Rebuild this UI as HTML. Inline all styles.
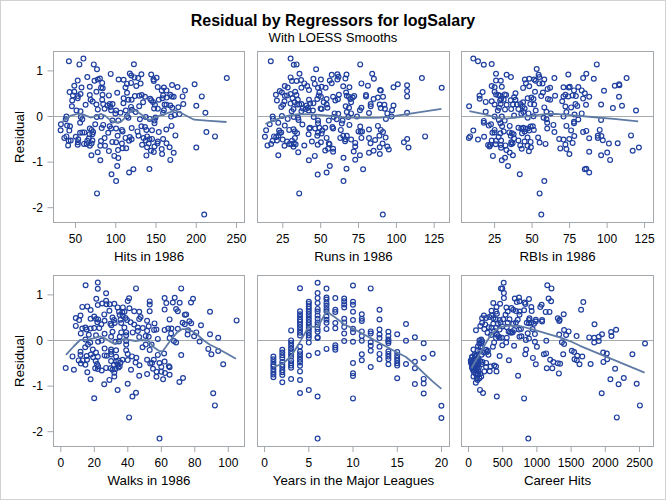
<!DOCTYPE html><html><head><meta charset="utf-8"><style>html,body{margin:0;padding:0;background:#fff}svg{display:block}text{font-family:"Liberation Sans",sans-serif;fill:#000}</style></head><body>
<svg width="666" height="500" viewBox="0 0 666 500">
<rect x="0" y="0" width="666" height="500" fill="#fff"/>
<rect x="0.5" y="0.5" width="665" height="499" fill="none" stroke="#d2d2d2" stroke-width="1"/>
<text x="333" y="25.5" font-size="16" font-weight="bold" text-anchor="middle">Residual by Regressors for logSalary</text>
<text x="333" y="41.5" font-size="13.1" text-anchor="middle">With LOESS Smooths</text>
<g>
<line x1="53.5" y1="116.5" x2="244.5" y2="116.5" stroke="#a6abb0" stroke-width="1.2"/>
<g fill="none" stroke="#1f3f9f" stroke-width="1.2">
<circle cx="68.9" cy="61.2" r="2.4"/><circle cx="83.4" cy="58.6" r="2.4"/><circle cx="79.4" cy="64.4" r="2.4"/><circle cx="93.8" cy="64.4" r="2.4"/><circle cx="97.0" cy="69.2" r="2.4"/><circle cx="133.9" cy="64.3" r="2.4"/><circle cx="110.7" cy="73.9" r="2.4"/><circle cx="87.3" cy="77.1" r="2.4"/><circle cx="77.7" cy="80.6" r="2.4"/><circle cx="74.3" cy="85.7" r="2.4"/><circle cx="81.5" cy="87.5" r="2.4"/><circle cx="89.8" cy="86.8" r="2.4"/><circle cx="94.5" cy="80.7" r="2.4"/><circle cx="97.8" cy="79.5" r="2.4"/><circle cx="99.9" cy="78.5" r="2.4"/><circle cx="102.2" cy="82.9" r="2.4"/><circle cx="101.0" cy="87.8" r="2.4"/><circle cx="102.7" cy="88.2" r="2.4"/><circle cx="118.6" cy="79.5" r="2.4"/><circle cx="123.6" cy="79.8" r="2.4"/><circle cx="127.0" cy="83.9" r="2.4"/><circle cx="125.5" cy="87.5" r="2.4"/><circle cx="131.0" cy="82.9" r="2.4"/><circle cx="129.8" cy="73.5" r="2.4"/><circle cx="131.3" cy="75.5" r="2.4"/><circle cx="134.5" cy="77.4" r="2.4"/><circle cx="138.1" cy="78.1" r="2.4"/><circle cx="141.4" cy="74.2" r="2.4"/><circle cx="140.6" cy="83.6" r="2.4"/><circle cx="136.3" cy="86.0" r="2.4"/><circle cx="69.6" cy="92.1" r="2.4"/><circle cx="74.3" cy="91.8" r="2.4"/><circle cx="72.9" cy="95.4" r="2.4"/><circle cx="77.9" cy="96.1" r="2.4"/><circle cx="80.5" cy="94.0" r="2.4"/><circle cx="77.7" cy="98.3" r="2.4"/><circle cx="72.2" cy="100.5" r="2.4"/><circle cx="89.8" cy="95.0" r="2.4"/><circle cx="90.6" cy="99.7" r="2.4"/><circle cx="92.6" cy="101.6" r="2.4"/><circle cx="96.4" cy="91.8" r="2.4"/><circle cx="102.5" cy="94.7" r="2.4"/><circle cx="102.2" cy="99.7" r="2.4"/><circle cx="108.9" cy="95.4" r="2.4"/><circle cx="117.2" cy="92.8" r="2.4"/><circle cx="127.0" cy="92.8" r="2.4"/><circle cx="123.6" cy="98.3" r="2.4"/><circle cx="128.4" cy="99.7" r="2.4"/><circle cx="131.6" cy="99.7" r="2.4"/><circle cx="134.9" cy="96.1" r="2.4"/><circle cx="139.2" cy="95.8" r="2.4"/><circle cx="141.7" cy="95.0" r="2.4"/><circle cx="145.0" cy="96.8" r="2.4"/><circle cx="143.1" cy="102.2" r="2.4"/><circle cx="71.9" cy="106.2" r="2.4"/><circle cx="76.5" cy="110.5" r="2.4"/><circle cx="80.5" cy="111.3" r="2.4"/><circle cx="85.6" cy="104.8" r="2.4"/><circle cx="96.4" cy="104.5" r="2.4"/><circle cx="97.8" cy="109.4" r="2.4"/><circle cx="103.2" cy="104.1" r="2.4"/><circle cx="104.6" cy="108.8" r="2.4"/><circle cx="107.5" cy="105.5" r="2.4"/><circle cx="109.7" cy="104.1" r="2.4"/><circle cx="112.5" cy="104.1" r="2.4"/><circle cx="110.4" cy="106.9" r="2.4"/><circle cx="111.1" cy="110.3" r="2.4"/><circle cx="116.1" cy="110.5" r="2.4"/><circle cx="115.4" cy="113.4" r="2.4"/><circle cx="120.5" cy="112.7" r="2.4"/><circle cx="123.4" cy="103.3" r="2.4"/><circle cx="131.0" cy="106.9" r="2.4"/><circle cx="139.2" cy="106.2" r="2.4"/><circle cx="125.8" cy="110.5" r="2.4"/><circle cx="135.6" cy="112.0" r="2.4"/><circle cx="132.0" cy="109.8" r="2.4"/><circle cx="66.4" cy="116.6" r="2.4"/><circle cx="65.7" cy="119.2" r="2.4"/><circle cx="80.8" cy="117.0" r="2.4"/><circle cx="82.3" cy="119.2" r="2.4"/><circle cx="96.7" cy="117.0" r="2.4"/><circle cx="101.0" cy="116.6" r="2.4"/><circle cx="127.0" cy="116.3" r="2.4"/><circle cx="128.4" cy="117.7" r="2.4"/><circle cx="139.9" cy="119.2" r="2.4"/><circle cx="145.7" cy="117.0" r="2.4"/><circle cx="112.5" cy="120.6" r="2.4"/><circle cx="118.3" cy="120.6" r="2.4"/><circle cx="151.2" cy="74.5" r="2.4"/><circle cx="156.6" cy="77.7" r="2.4"/><circle cx="153.5" cy="79.5" r="2.4"/><circle cx="153.8" cy="81.0" r="2.4"/><circle cx="157.7" cy="87.0" r="2.4"/><circle cx="163.9" cy="87.5" r="2.4"/><circle cx="161.7" cy="90.4" r="2.4"/><circle cx="166.5" cy="90.4" r="2.4"/><circle cx="172.1" cy="85.0" r="2.4"/><circle cx="177.5" cy="87.0" r="2.4"/><circle cx="185.0" cy="90.6" r="2.4"/><circle cx="194.6" cy="84.3" r="2.4"/><circle cx="226.8" cy="78.1" r="2.4"/><circle cx="163.1" cy="95.4" r="2.4"/><circle cx="162.4" cy="98.3" r="2.4"/><circle cx="158.8" cy="99.7" r="2.4"/><circle cx="166.7" cy="97.6" r="2.4"/><circle cx="170.3" cy="94.7" r="2.4"/><circle cx="171.8" cy="96.4" r="2.4"/><circle cx="173.7" cy="96.8" r="2.4"/><circle cx="182.6" cy="96.4" r="2.4"/><circle cx="201.8" cy="96.4" r="2.4"/><circle cx="150.2" cy="98.7" r="2.4"/><circle cx="151.2" cy="100.2" r="2.4"/><circle cx="153.0" cy="101.9" r="2.4"/><circle cx="154.9" cy="104.8" r="2.4"/><circle cx="154.1" cy="108.4" r="2.4"/><circle cx="157.8" cy="108.8" r="2.4"/><circle cx="164.6" cy="104.5" r="2.4"/><circle cx="166.5" cy="104.8" r="2.4"/><circle cx="170.3" cy="105.5" r="2.4"/><circle cx="172.2" cy="107.7" r="2.4"/><circle cx="178.3" cy="107.2" r="2.4"/><circle cx="183.3" cy="104.1" r="2.4"/><circle cx="196.3" cy="105.8" r="2.4"/><circle cx="163.9" cy="110.3" r="2.4"/><circle cx="163.1" cy="112.7" r="2.4"/><circle cx="171.1" cy="116.6" r="2.4"/><circle cx="174.7" cy="114.9" r="2.4"/><circle cx="179.4" cy="114.1" r="2.4"/><circle cx="205.4" cy="112.7" r="2.4"/><circle cx="155.5" cy="117.5" r="2.4"/><circle cx="149.7" cy="118.9" r="2.4"/><circle cx="154.5" cy="120.6" r="2.4"/><circle cx="60.9" cy="124.2" r="2.4"/><circle cx="60.6" cy="130.2" r="2.4"/><circle cx="67.1" cy="125.6" r="2.4"/><circle cx="70.0" cy="126.3" r="2.4"/><circle cx="69.3" cy="130.6" r="2.4"/><circle cx="80.1" cy="122.7" r="2.4"/><circle cx="95.2" cy="124.2" r="2.4"/><circle cx="103.2" cy="124.9" r="2.4"/><circle cx="101.7" cy="128.1" r="2.4"/><circle cx="109.7" cy="126.3" r="2.4"/><circle cx="111.1" cy="128.5" r="2.4"/><circle cx="116.1" cy="128.5" r="2.4"/><circle cx="121.9" cy="129.9" r="2.4"/><circle cx="122.6" cy="131.4" r="2.4"/><circle cx="131.7" cy="128.1" r="2.4"/><circle cx="137.5" cy="131.4" r="2.4"/><circle cx="141.4" cy="126.3" r="2.4"/><circle cx="145.0" cy="127.0" r="2.4"/><circle cx="146.4" cy="129.9" r="2.4"/><circle cx="89.8" cy="128.5" r="2.4"/><circle cx="91.6" cy="129.9" r="2.4"/><circle cx="93.1" cy="132.1" r="2.4"/><circle cx="92.4" cy="134.3" r="2.4"/><circle cx="89.5" cy="134.3" r="2.4"/><circle cx="80.1" cy="132.8" r="2.4"/><circle cx="82.3" cy="132.4" r="2.4"/><circle cx="84.4" cy="132.4" r="2.4"/><circle cx="108.2" cy="132.8" r="2.4"/><circle cx="117.6" cy="135.7" r="2.4"/><circle cx="138.5" cy="135.7" r="2.4"/><circle cx="64.3" cy="137.9" r="2.4"/><circle cx="66.4" cy="136.4" r="2.4"/><circle cx="68.6" cy="140.7" r="2.4"/><circle cx="70.7" cy="140.5" r="2.4"/><circle cx="68.1" cy="145.4" r="2.4"/><circle cx="75.8" cy="136.8" r="2.4"/><circle cx="78.2" cy="139.3" r="2.4"/><circle cx="77.9" cy="142.2" r="2.4"/><circle cx="77.7" cy="144.8" r="2.4"/><circle cx="84.0" cy="143.9" r="2.4"/><circle cx="86.6" cy="143.9" r="2.4"/><circle cx="89.8" cy="145.8" r="2.4"/><circle cx="91.6" cy="143.6" r="2.4"/><circle cx="92.4" cy="140.5" r="2.4"/><circle cx="88.8" cy="138.6" r="2.4"/><circle cx="87.3" cy="140.7" r="2.4"/><circle cx="101.0" cy="141.0" r="2.4"/><circle cx="104.6" cy="138.1" r="2.4"/><circle cx="100.3" cy="145.8" r="2.4"/><circle cx="105.0" cy="145.8" r="2.4"/><circle cx="112.3" cy="141.9" r="2.4"/><circle cx="116.1" cy="142.2" r="2.4"/><circle cx="121.9" cy="143.6" r="2.4"/><circle cx="122.6" cy="148.2" r="2.4"/><circle cx="126.2" cy="148.2" r="2.4"/><circle cx="118.0" cy="150.1" r="2.4"/><circle cx="108.9" cy="151.1" r="2.4"/><circle cx="125.5" cy="137.9" r="2.4"/><circle cx="129.8" cy="137.1" r="2.4"/><circle cx="131.6" cy="139.3" r="2.4"/><circle cx="129.1" cy="140.7" r="2.4"/><circle cx="142.1" cy="144.8" r="2.4"/><circle cx="143.5" cy="138.1" r="2.4"/><circle cx="145.7" cy="140.5" r="2.4"/><circle cx="147.1" cy="136.4" r="2.4"/><circle cx="147.1" cy="147.2" r="2.4"/><circle cx="97.7" cy="152.3" r="2.4"/><circle cx="91.4" cy="155.2" r="2.4"/><circle cx="100.3" cy="160.2" r="2.4"/><circle cx="114.3" cy="155.9" r="2.4"/><circle cx="118.3" cy="158.0" r="2.4"/><circle cx="117.2" cy="166.0" r="2.4"/><circle cx="146.4" cy="155.4" r="2.4"/><circle cx="133.4" cy="169.3" r="2.4"/><circle cx="129.1" cy="172.5" r="2.4"/><circle cx="111.5" cy="174.3" r="2.4"/><circle cx="116.1" cy="181.1" r="2.4"/><circle cx="97.0" cy="193.4" r="2.4"/><circle cx="154.5" cy="123.2" r="2.4"/><circle cx="171.5" cy="125.9" r="2.4"/><circle cx="152.0" cy="130.2" r="2.4"/><circle cx="158.8" cy="132.1" r="2.4"/><circle cx="166.3" cy="129.5" r="2.4"/><circle cx="175.4" cy="135.4" r="2.4"/><circle cx="206.4" cy="132.1" r="2.4"/><circle cx="215.0" cy="136.4" r="2.4"/><circle cx="149.4" cy="139.3" r="2.4"/><circle cx="152.0" cy="138.9" r="2.4"/><circle cx="157.8" cy="141.5" r="2.4"/><circle cx="157.4" cy="143.6" r="2.4"/><circle cx="163.1" cy="139.0" r="2.4"/><circle cx="166.5" cy="143.2" r="2.4"/><circle cx="169.6" cy="147.2" r="2.4"/><circle cx="154.5" cy="146.5" r="2.4"/><circle cx="148.7" cy="143.6" r="2.4"/><circle cx="150.9" cy="150.8" r="2.4"/><circle cx="153.8" cy="152.0" r="2.4"/><circle cx="161.7" cy="149.1" r="2.4"/><circle cx="162.1" cy="154.0" r="2.4"/><circle cx="173.7" cy="152.7" r="2.4"/><circle cx="170.3" cy="159.9" r="2.4"/><circle cx="196.3" cy="147.5" r="2.4"/><circle cx="149.4" cy="169.1" r="2.4"/><circle cx="204.2" cy="214.6" r="2.4"/>
</g>
<path d="M61.4,122.8 L70.7,115.6 L78.7,113.7 L83.0,114.4 L90.9,117.6 L95.2,116.1 L101.0,114.0 L105.3,115.9 L111.1,120.9 L116.8,122.6 L121.2,121.6 L126.9,115.9 L131.3,110.4 L135.6,110.4 L141.3,114.4 L146.0,118.5 L150.0,120.0 L156.6,116.6 L166.7,113.3 L175.4,110.4 L181.1,113.0 L194.1,119.7 L210.0,120.9 L226.5,122.0" fill="none" stroke="#5f7ba5" stroke-width="1.8" stroke-linejoin="round" stroke-linecap="butt"/>
<rect x="53.5" y="51.5" width="191.0" height="171.0" fill="none" stroke="#a3a8ad" stroke-width="1"/>
<line x1="75.5" y1="222.5" x2="75.5" y2="228.0" stroke="#a3a8ad" stroke-width="1"/>
<text x="75.5" y="242.5" font-size="12" text-anchor="middle">50</text>
<line x1="115.75" y1="222.5" x2="115.75" y2="228.0" stroke="#a3a8ad" stroke-width="1"/>
<text x="115.75" y="242.5" font-size="12" text-anchor="middle">100</text>
<line x1="156" y1="222.5" x2="156" y2="228.0" stroke="#a3a8ad" stroke-width="1"/>
<text x="156" y="242.5" font-size="12" text-anchor="middle">150</text>
<line x1="196.25" y1="222.5" x2="196.25" y2="228.0" stroke="#a3a8ad" stroke-width="1"/>
<text x="196.25" y="242.5" font-size="12" text-anchor="middle">200</text>
<line x1="236.5" y1="222.5" x2="236.5" y2="228.0" stroke="#a3a8ad" stroke-width="1"/>
<text x="236.5" y="242.5" font-size="12" text-anchor="middle">250</text>
<text x="149.0" y="260.5" font-size="13.3" text-anchor="middle">Hits in 1986</text>
</g>
<g>
<line x1="257.5" y1="116.5" x2="449.5" y2="116.5" stroke="#a6abb0" stroke-width="1.2"/>
<g fill="none" stroke="#1f3f9f" stroke-width="1.2">
<circle cx="270.8" cy="61.2" r="2.4"/><circle cx="290.6" cy="58.6" r="2.4"/><circle cx="293.8" cy="64.7" r="2.4"/><circle cx="296.6" cy="64.4" r="2.4"/><circle cx="316.1" cy="69.2" r="2.4"/><circle cx="299.5" cy="73.8" r="2.4"/><circle cx="290.6" cy="77.4" r="2.4"/><circle cx="292.0" cy="81.0" r="2.4"/><circle cx="296.6" cy="81.0" r="2.4"/><circle cx="301.1" cy="80.0" r="2.4"/><circle cx="304.3" cy="83.4" r="2.4"/><circle cx="301.4" cy="87.8" r="2.4"/><circle cx="307.2" cy="86.0" r="2.4"/><circle cx="309.0" cy="90.1" r="2.4"/><circle cx="313.4" cy="78.8" r="2.4"/><circle cx="314.8" cy="83.9" r="2.4"/><circle cx="320.9" cy="79.5" r="2.4"/><circle cx="318.0" cy="87.8" r="2.4"/><circle cx="321.6" cy="86.8" r="2.4"/><circle cx="325.6" cy="87.8" r="2.4"/><circle cx="331.7" cy="74.8" r="2.4"/><circle cx="329.8" cy="80.6" r="2.4"/><circle cx="331.7" cy="83.2" r="2.4"/><circle cx="337.4" cy="74.2" r="2.4"/><circle cx="338.5" cy="76.7" r="2.4"/><circle cx="337.4" cy="79.5" r="2.4"/><circle cx="346.5" cy="74.5" r="2.4"/><circle cx="345.4" cy="78.5" r="2.4"/><circle cx="343.2" cy="86.3" r="2.4"/><circle cx="349.4" cy="87.2" r="2.4"/><circle cx="284.8" cy="86.0" r="2.4"/><circle cx="287.7" cy="87.5" r="2.4"/><circle cx="279.8" cy="91.1" r="2.4"/><circle cx="281.9" cy="92.5" r="2.4"/><circle cx="275.9" cy="94.7" r="2.4"/><circle cx="276.9" cy="100.5" r="2.4"/><circle cx="284.8" cy="95.8" r="2.4"/><circle cx="287.0" cy="95.4" r="2.4"/><circle cx="290.6" cy="94.0" r="2.4"/><circle cx="295.2" cy="91.8" r="2.4"/><circle cx="296.4" cy="95.0" r="2.4"/><circle cx="292.5" cy="98.3" r="2.4"/><circle cx="297.8" cy="99.7" r="2.4"/><circle cx="284.5" cy="101.2" r="2.4"/><circle cx="290.6" cy="103.6" r="2.4"/><circle cx="294.6" cy="102.2" r="2.4"/><circle cx="319.4" cy="92.5" r="2.4"/><circle cx="318.7" cy="95.4" r="2.4"/><circle cx="320.9" cy="96.8" r="2.4"/><circle cx="317.3" cy="99.0" r="2.4"/><circle cx="309.0" cy="99.7" r="2.4"/><circle cx="310.1" cy="103.6" r="2.4"/><circle cx="313.4" cy="103.3" r="2.4"/><circle cx="326.6" cy="99.0" r="2.4"/><circle cx="323.7" cy="102.2" r="2.4"/><circle cx="326.6" cy="104.5" r="2.4"/><circle cx="333.1" cy="96.8" r="2.4"/><circle cx="338.9" cy="94.7" r="2.4"/><circle cx="335.3" cy="100.5" r="2.4"/><circle cx="337.9" cy="99.3" r="2.4"/><circle cx="346.1" cy="92.5" r="2.4"/><circle cx="346.8" cy="95.8" r="2.4"/><circle cx="349.0" cy="96.8" r="2.4"/><circle cx="350.4" cy="99.0" r="2.4"/><circle cx="351.1" cy="102.2" r="2.4"/><circle cx="283.1" cy="104.8" r="2.4"/><circle cx="281.2" cy="106.9" r="2.4"/><circle cx="297.1" cy="104.5" r="2.4"/><circle cx="299.2" cy="104.5" r="2.4"/><circle cx="301.4" cy="104.1" r="2.4"/><circle cx="293.5" cy="109.1" r="2.4"/><circle cx="291.7" cy="111.3" r="2.4"/><circle cx="302.8" cy="108.4" r="2.4"/><circle cx="301.4" cy="111.3" r="2.4"/><circle cx="306.5" cy="105.5" r="2.4"/><circle cx="307.9" cy="107.7" r="2.4"/><circle cx="305.7" cy="109.1" r="2.4"/><circle cx="308.6" cy="110.5" r="2.4"/><circle cx="312.9" cy="110.5" r="2.4"/><circle cx="320.6" cy="108.4" r="2.4"/><circle cx="321.6" cy="109.1" r="2.4"/><circle cx="327.4" cy="107.7" r="2.4"/><circle cx="345.7" cy="106.2" r="2.4"/><circle cx="349.0" cy="107.7" r="2.4"/><circle cx="346.8" cy="112.0" r="2.4"/><circle cx="334.6" cy="113.4" r="2.4"/><circle cx="338.2" cy="113.7" r="2.4"/><circle cx="351.1" cy="113.4" r="2.4"/><circle cx="272.6" cy="116.6" r="2.4"/><circle cx="273.0" cy="118.9" r="2.4"/><circle cx="281.9" cy="116.0" r="2.4"/><circle cx="287.7" cy="118.9" r="2.4"/><circle cx="293.8" cy="117.0" r="2.4"/><circle cx="298.1" cy="117.7" r="2.4"/><circle cx="298.5" cy="119.9" r="2.4"/><circle cx="313.7" cy="117.0" r="2.4"/><circle cx="318.0" cy="120.6" r="2.4"/><circle cx="328.8" cy="120.6" r="2.4"/><circle cx="333.8" cy="117.0" r="2.4"/><circle cx="336.7" cy="119.2" r="2.4"/><circle cx="342.5" cy="120.6" r="2.4"/><circle cx="348.3" cy="117.0" r="2.4"/><circle cx="360.2" cy="64.4" r="2.4"/><circle cx="372.2" cy="73.8" r="2.4"/><circle cx="373.9" cy="78.8" r="2.4"/><circle cx="361.4" cy="83.4" r="2.4"/><circle cx="367.9" cy="85.7" r="2.4"/><circle cx="421.9" cy="78.1" r="2.4"/><circle cx="441.7" cy="87.8" r="2.4"/><circle cx="380.1" cy="90.1" r="2.4"/><circle cx="380.8" cy="90.6" r="2.4"/><circle cx="393.5" cy="87.2" r="2.4"/><circle cx="397.8" cy="84.3" r="2.4"/><circle cx="407.1" cy="85.3" r="2.4"/><circle cx="407.1" cy="91.1" r="2.4"/><circle cx="407.1" cy="96.4" r="2.4"/><circle cx="354.2" cy="96.1" r="2.4"/><circle cx="352.7" cy="97.6" r="2.4"/><circle cx="366.0" cy="95.0" r="2.4"/><circle cx="366.0" cy="96.4" r="2.4"/><circle cx="373.6" cy="99.0" r="2.4"/><circle cx="377.9" cy="97.6" r="2.4"/><circle cx="383.0" cy="96.8" r="2.4"/><circle cx="370.7" cy="104.1" r="2.4"/><circle cx="370.7" cy="106.2" r="2.4"/><circle cx="361.4" cy="107.7" r="2.4"/><circle cx="359.9" cy="110.3" r="2.4"/><circle cx="369.0" cy="113.0" r="2.4"/><circle cx="357.0" cy="116.6" r="2.4"/><circle cx="379.7" cy="104.5" r="2.4"/><circle cx="384.4" cy="104.8" r="2.4"/><circle cx="380.8" cy="108.1" r="2.4"/><circle cx="384.9" cy="108.8" r="2.4"/><circle cx="393.5" cy="105.5" r="2.4"/><circle cx="392.1" cy="110.3" r="2.4"/><circle cx="387.3" cy="113.4" r="2.4"/><circle cx="391.6" cy="116.6" r="2.4"/><circle cx="385.9" cy="118.9" r="2.4"/><circle cx="407.1" cy="112.7" r="2.4"/><circle cx="269.7" cy="124.2" r="2.4"/><circle cx="278.3" cy="122.7" r="2.4"/><circle cx="284.8" cy="125.6" r="2.4"/><circle cx="266.1" cy="130.2" r="2.4"/><circle cx="302.4" cy="124.5" r="2.4"/><circle cx="309.3" cy="128.5" r="2.4"/><circle cx="310.1" cy="127.8" r="2.4"/><circle cx="315.1" cy="128.5" r="2.4"/><circle cx="318.0" cy="123.2" r="2.4"/><circle cx="319.4" cy="127.8" r="2.4"/><circle cx="322.3" cy="130.6" r="2.4"/><circle cx="325.2" cy="127.8" r="2.4"/><circle cx="332.4" cy="127.0" r="2.4"/><circle cx="333.1" cy="128.5" r="2.4"/><circle cx="341.8" cy="123.4" r="2.4"/><circle cx="340.8" cy="129.9" r="2.4"/><circle cx="349.4" cy="124.9" r="2.4"/><circle cx="289.2" cy="129.9" r="2.4"/><circle cx="293.5" cy="129.2" r="2.4"/><circle cx="294.9" cy="131.4" r="2.4"/><circle cx="297.1" cy="133.2" r="2.4"/><circle cx="279.1" cy="130.6" r="2.4"/><circle cx="279.8" cy="132.8" r="2.4"/><circle cx="281.2" cy="132.4" r="2.4"/><circle cx="264.9" cy="136.7" r="2.4"/><circle cx="274.0" cy="136.4" r="2.4"/><circle cx="276.2" cy="137.1" r="2.4"/><circle cx="278.3" cy="135.7" r="2.4"/><circle cx="276.9" cy="140.5" r="2.4"/><circle cx="272.6" cy="140.7" r="2.4"/><circle cx="282.7" cy="139.6" r="2.4"/><circle cx="287.0" cy="141.5" r="2.4"/><circle cx="294.9" cy="138.1" r="2.4"/><circle cx="292.0" cy="140.7" r="2.4"/><circle cx="308.6" cy="134.3" r="2.4"/><circle cx="318.0" cy="132.8" r="2.4"/><circle cx="317.3" cy="135.7" r="2.4"/><circle cx="321.6" cy="133.5" r="2.4"/><circle cx="326.6" cy="137.9" r="2.4"/><circle cx="311.9" cy="141.5" r="2.4"/><circle cx="320.9" cy="142.2" r="2.4"/><circle cx="340.3" cy="137.9" r="2.4"/><circle cx="343.2" cy="135.7" r="2.4"/><circle cx="346.8" cy="135.7" r="2.4"/><circle cx="345.4" cy="139.3" r="2.4"/><circle cx="345.1" cy="141.2" r="2.4"/><circle cx="351.1" cy="139.6" r="2.4"/><circle cx="267.5" cy="145.4" r="2.4"/><circle cx="271.1" cy="143.9" r="2.4"/><circle cx="284.5" cy="145.8" r="2.4"/><circle cx="289.2" cy="143.9" r="2.4"/><circle cx="291.3" cy="144.3" r="2.4"/><circle cx="293.8" cy="143.6" r="2.4"/><circle cx="293.5" cy="146.8" r="2.4"/><circle cx="295.6" cy="144.3" r="2.4"/><circle cx="304.3" cy="145.5" r="2.4"/><circle cx="317.7" cy="144.8" r="2.4"/><circle cx="328.8" cy="143.6" r="2.4"/><circle cx="329.5" cy="144.3" r="2.4"/><circle cx="328.1" cy="148.7" r="2.4"/><circle cx="325.2" cy="150.5" r="2.4"/><circle cx="333.1" cy="148.7" r="2.4"/><circle cx="333.1" cy="151.8" r="2.4"/><circle cx="298.2" cy="152.3" r="2.4"/><circle cx="278.3" cy="155.2" r="2.4"/><circle cx="314.8" cy="155.9" r="2.4"/><circle cx="308.9" cy="160.2" r="2.4"/><circle cx="343.5" cy="157.7" r="2.4"/><circle cx="329.8" cy="166.0" r="2.4"/><circle cx="346.5" cy="168.8" r="2.4"/><circle cx="326.6" cy="172.5" r="2.4"/><circle cx="317.7" cy="174.6" r="2.4"/><circle cx="343.5" cy="181.1" r="2.4"/><circle cx="299.2" cy="193.4" r="2.4"/><circle cx="360.2" cy="126.6" r="2.4"/><circle cx="358.5" cy="131.4" r="2.4"/><circle cx="360.6" cy="131.8" r="2.4"/><circle cx="362.1" cy="131.4" r="2.4"/><circle cx="369.0" cy="129.5" r="2.4"/><circle cx="377.9" cy="125.9" r="2.4"/><circle cx="380.8" cy="129.9" r="2.4"/><circle cx="383.0" cy="132.1" r="2.4"/><circle cx="379.4" cy="135.7" r="2.4"/><circle cx="385.6" cy="137.6" r="2.4"/><circle cx="425.1" cy="136.4" r="2.4"/><circle cx="361.4" cy="137.9" r="2.4"/><circle cx="369.0" cy="138.1" r="2.4"/><circle cx="375.1" cy="140.0" r="2.4"/><circle cx="370.5" cy="143.3" r="2.4"/><circle cx="355.2" cy="142.9" r="2.4"/><circle cx="355.2" cy="146.5" r="2.4"/><circle cx="382.6" cy="143.6" r="2.4"/><circle cx="379.7" cy="147.2" r="2.4"/><circle cx="387.3" cy="146.5" r="2.4"/><circle cx="388.8" cy="149.4" r="2.4"/><circle cx="407.2" cy="139.0" r="2.4"/><circle cx="403.9" cy="142.2" r="2.4"/><circle cx="408.5" cy="147.5" r="2.4"/><circle cx="353.7" cy="151.5" r="2.4"/><circle cx="359.9" cy="155.2" r="2.4"/><circle cx="355.2" cy="159.8" r="2.4"/><circle cx="369.0" cy="152.7" r="2.4"/><circle cx="373.6" cy="150.8" r="2.4"/><circle cx="379.8" cy="154.0" r="2.4"/><circle cx="363.1" cy="169.3" r="2.4"/><circle cx="382.8" cy="214.6" r="2.4"/>
</g>
<path d="M265.4,123.8 L271.9,121.3 L281.9,117.3 L290.6,115.1 L299.2,114.1 L310.8,114.4 L322.3,115.1 L333.8,116.1 L343.9,117.3 L352.0,117.6 L366.4,117.8 L380.8,117.6 L395.2,116.0 L416.8,112.7 L441.4,108.8" fill="none" stroke="#5f7ba5" stroke-width="1.8" stroke-linejoin="round" stroke-linecap="butt"/>
<rect x="257.5" y="51.5" width="192.0" height="171.0" fill="none" stroke="#a3a8ad" stroke-width="1"/>
<line x1="282.8" y1="222.5" x2="282.8" y2="228.0" stroke="#a3a8ad" stroke-width="1"/>
<text x="282.8" y="242.5" font-size="12" text-anchor="middle">25</text>
<line x1="320.7" y1="222.5" x2="320.7" y2="228.0" stroke="#a3a8ad" stroke-width="1"/>
<text x="320.7" y="242.5" font-size="12" text-anchor="middle">50</text>
<line x1="358.5" y1="222.5" x2="358.5" y2="228.0" stroke="#a3a8ad" stroke-width="1"/>
<text x="358.5" y="242.5" font-size="12" text-anchor="middle">75</text>
<line x1="396.4" y1="222.5" x2="396.4" y2="228.0" stroke="#a3a8ad" stroke-width="1"/>
<text x="396.4" y="242.5" font-size="12" text-anchor="middle">100</text>
<line x1="434.2" y1="222.5" x2="434.2" y2="228.0" stroke="#a3a8ad" stroke-width="1"/>
<text x="434.2" y="242.5" font-size="12" text-anchor="middle">125</text>
<text x="353.5" y="260.5" font-size="13.3" text-anchor="middle">Runs in 1986</text>
</g>
<g>
<line x1="461.5" y1="116.5" x2="653.5" y2="116.5" stroke="#a6abb0" stroke-width="1.2"/>
<g fill="none" stroke="#1f3f9f" stroke-width="1.2">
<circle cx="473.3" cy="58.6" r="2.4"/><circle cx="478.0" cy="61.2" r="2.4"/><circle cx="483.8" cy="64.7" r="2.4"/><circle cx="491.7" cy="64.1" r="2.4"/><circle cx="536.7" cy="69.0" r="2.4"/><circle cx="496.0" cy="73.8" r="2.4"/><circle cx="506.6" cy="74.8" r="2.4"/><circle cx="510.9" cy="77.1" r="2.4"/><circle cx="496.0" cy="80.6" r="2.4"/><circle cx="500.8" cy="80.7" r="2.4"/><circle cx="491.7" cy="86.0" r="2.4"/><circle cx="494.6" cy="87.2" r="2.4"/><circle cx="501.8" cy="86.8" r="2.4"/><circle cx="524.9" cy="79.5" r="2.4"/><circle cx="529.2" cy="78.8" r="2.4"/><circle cx="526.0" cy="83.2" r="2.4"/><circle cx="523.1" cy="87.9" r="2.4"/><circle cx="529.2" cy="86.3" r="2.4"/><circle cx="534.2" cy="79.5" r="2.4"/><circle cx="535.7" cy="80.7" r="2.4"/><circle cx="538.6" cy="74.8" r="2.4"/><circle cx="539.3" cy="77.1" r="2.4"/><circle cx="544.3" cy="79.5" r="2.4"/><circle cx="539.3" cy="83.4" r="2.4"/><circle cx="542.5" cy="83.4" r="2.4"/><circle cx="554.4" cy="78.1" r="2.4"/><circle cx="482.6" cy="92.1" r="2.4"/><circle cx="479.5" cy="95.8" r="2.4"/><circle cx="479.7" cy="98.7" r="2.4"/><circle cx="469.1" cy="106.2" r="2.4"/><circle cx="485.7" cy="101.9" r="2.4"/><circle cx="485.7" cy="111.7" r="2.4"/><circle cx="494.6" cy="91.8" r="2.4"/><circle cx="496.0" cy="94.4" r="2.4"/><circle cx="498.2" cy="95.0" r="2.4"/><circle cx="499.6" cy="95.4" r="2.4"/><circle cx="504.7" cy="94.4" r="2.4"/><circle cx="506.1" cy="95.0" r="2.4"/><circle cx="501.1" cy="99.0" r="2.4"/><circle cx="500.1" cy="100.5" r="2.4"/><circle cx="503.7" cy="99.7" r="2.4"/><circle cx="491.7" cy="101.2" r="2.4"/><circle cx="494.6" cy="104.5" r="2.4"/><circle cx="500.6" cy="104.1" r="2.4"/><circle cx="498.9" cy="107.7" r="2.4"/><circle cx="497.8" cy="110.5" r="2.4"/><circle cx="506.6" cy="104.8" r="2.4"/><circle cx="505.0" cy="109.4" r="2.4"/><circle cx="515.5" cy="93.2" r="2.4"/><circle cx="514.1" cy="97.3" r="2.4"/><circle cx="515.5" cy="99.7" r="2.4"/><circle cx="510.7" cy="100.2" r="2.4"/><circle cx="513.0" cy="104.5" r="2.4"/><circle cx="516.9" cy="104.5" r="2.4"/><circle cx="511.2" cy="109.1" r="2.4"/><circle cx="518.4" cy="109.1" r="2.4"/><circle cx="520.5" cy="104.1" r="2.4"/><circle cx="523.1" cy="102.2" r="2.4"/><circle cx="522.7" cy="106.2" r="2.4"/><circle cx="524.6" cy="108.4" r="2.4"/><circle cx="523.4" cy="112.0" r="2.4"/><circle cx="521.3" cy="113.7" r="2.4"/><circle cx="527.7" cy="98.3" r="2.4"/><circle cx="531.4" cy="97.6" r="2.4"/><circle cx="533.5" cy="99.0" r="2.4"/><circle cx="530.3" cy="104.1" r="2.4"/><circle cx="534.2" cy="104.5" r="2.4"/><circle cx="528.5" cy="113.4" r="2.4"/><circle cx="535.7" cy="110.5" r="2.4"/><circle cx="533.5" cy="116.3" r="2.4"/><circle cx="535.0" cy="91.8" r="2.4"/><circle cx="542.9" cy="92.5" r="2.4"/><circle cx="541.2" cy="96.1" r="2.4"/><circle cx="547.6" cy="88.9" r="2.4"/><circle cx="550.1" cy="87.8" r="2.4"/><circle cx="547.9" cy="99.0" r="2.4"/><circle cx="550.1" cy="99.7" r="2.4"/><circle cx="555.1" cy="95.8" r="2.4"/><circle cx="544.3" cy="107.4" r="2.4"/><circle cx="546.5" cy="111.7" r="2.4"/><circle cx="550.8" cy="113.4" r="2.4"/><circle cx="543.6" cy="117.7" r="2.4"/><circle cx="546.5" cy="119.2" r="2.4"/><circle cx="494.6" cy="116.6" r="2.4"/><circle cx="501.8" cy="116.6" r="2.4"/><circle cx="498.9" cy="119.9" r="2.4"/><circle cx="504.7" cy="120.6" r="2.4"/><circle cx="514.1" cy="115.6" r="2.4"/><circle cx="483.8" cy="120.9" r="2.4"/><circle cx="527.7" cy="117.7" r="2.4"/><circle cx="596.8" cy="64.4" r="2.4"/><circle cx="568.3" cy="74.5" r="2.4"/><circle cx="586.3" cy="73.8" r="2.4"/><circle cx="583.1" cy="78.1" r="2.4"/><circle cx="593.8" cy="78.8" r="2.4"/><circle cx="626.6" cy="78.1" r="2.4"/><circle cx="563.5" cy="87.2" r="2.4"/><circle cx="568.7" cy="87.5" r="2.4"/><circle cx="569.7" cy="86.8" r="2.4"/><circle cx="578.3" cy="87.0" r="2.4"/><circle cx="574.0" cy="90.4" r="2.4"/><circle cx="581.7" cy="90.4" r="2.4"/><circle cx="584.8" cy="93.2" r="2.4"/><circle cx="589.2" cy="96.8" r="2.4"/><circle cx="583.1" cy="98.6" r="2.4"/><circle cx="565.4" cy="94.7" r="2.4"/><circle cx="563.5" cy="96.4" r="2.4"/><circle cx="568.3" cy="96.4" r="2.4"/><circle cx="572.6" cy="95.4" r="2.4"/><circle cx="575.9" cy="96.1" r="2.4"/><circle cx="562.2" cy="101.2" r="2.4"/><circle cx="565.4" cy="106.5" r="2.4"/><circle cx="571.1" cy="107.4" r="2.4"/><circle cx="575.5" cy="104.1" r="2.4"/><circle cx="577.3" cy="105.9" r="2.4"/><circle cx="586.0" cy="104.8" r="2.4"/><circle cx="566.4" cy="112.0" r="2.4"/><circle cx="563.5" cy="116.6" r="2.4"/><circle cx="574.5" cy="114.6" r="2.4"/><circle cx="581.7" cy="113.4" r="2.4"/><circle cx="578.3" cy="119.5" r="2.4"/><circle cx="574.0" cy="121.8" r="2.4"/><circle cx="604.0" cy="90.8" r="2.4"/><circle cx="614.8" cy="85.7" r="2.4"/><circle cx="619.1" cy="84.3" r="2.4"/><circle cx="619.4" cy="85.3" r="2.4"/><circle cx="619.0" cy="96.8" r="2.4"/><circle cx="601.1" cy="104.5" r="2.4"/><circle cx="612.9" cy="108.1" r="2.4"/><circle cx="622.0" cy="105.8" r="2.4"/><circle cx="636.0" cy="110.5" r="2.4"/><circle cx="601.1" cy="119.9" r="2.4"/><circle cx="483.8" cy="122.7" r="2.4"/><circle cx="488.8" cy="125.6" r="2.4"/><circle cx="491.0" cy="124.2" r="2.4"/><circle cx="500.4" cy="123.2" r="2.4"/><circle cx="502.1" cy="126.3" r="2.4"/><circle cx="509.7" cy="125.9" r="2.4"/><circle cx="547.2" cy="122.7" r="2.4"/><circle cx="553.4" cy="124.9" r="2.4"/><circle cx="547.2" cy="128.5" r="2.4"/><circle cx="554.4" cy="132.1" r="2.4"/><circle cx="473.3" cy="130.6" r="2.4"/><circle cx="494.6" cy="129.9" r="2.4"/><circle cx="492.4" cy="132.8" r="2.4"/><circle cx="494.6" cy="132.4" r="2.4"/><circle cx="500.4" cy="133.2" r="2.4"/><circle cx="503.7" cy="131.4" r="2.4"/><circle cx="518.4" cy="127.8" r="2.4"/><circle cx="521.3" cy="128.5" r="2.4"/><circle cx="523.4" cy="127.8" r="2.4"/><circle cx="525.6" cy="128.9" r="2.4"/><circle cx="527.7" cy="128.5" r="2.4"/><circle cx="530.6" cy="126.6" r="2.4"/><circle cx="532.8" cy="126.3" r="2.4"/><circle cx="533.8" cy="129.9" r="2.4"/><circle cx="529.2" cy="130.6" r="2.4"/><circle cx="524.6" cy="131.4" r="2.4"/><circle cx="522.0" cy="133.2" r="2.4"/><circle cx="509.3" cy="132.4" r="2.4"/><circle cx="511.9" cy="133.2" r="2.4"/><circle cx="510.7" cy="135.7" r="2.4"/><circle cx="513.6" cy="134.3" r="2.4"/><circle cx="468.9" cy="137.9" r="2.4"/><circle cx="470.1" cy="136.4" r="2.4"/><circle cx="478.0" cy="139.6" r="2.4"/><circle cx="484.1" cy="136.8" r="2.4"/><circle cx="498.6" cy="137.1" r="2.4"/><circle cx="491.7" cy="140.5" r="2.4"/><circle cx="496.0" cy="140.7" r="2.4"/><circle cx="501.1" cy="140.5" r="2.4"/><circle cx="514.1" cy="138.6" r="2.4"/><circle cx="518.4" cy="140.5" r="2.4"/><circle cx="511.2" cy="142.2" r="2.4"/><circle cx="511.2" cy="144.3" r="2.4"/><circle cx="512.6" cy="143.3" r="2.4"/><circle cx="488.1" cy="145.1" r="2.4"/><circle cx="490.3" cy="144.8" r="2.4"/><circle cx="489.5" cy="146.5" r="2.4"/><circle cx="495.7" cy="144.3" r="2.4"/><circle cx="500.8" cy="145.1" r="2.4"/><circle cx="501.1" cy="147.7" r="2.4"/><circle cx="505.4" cy="145.4" r="2.4"/><circle cx="527.5" cy="137.6" r="2.4"/><circle cx="524.6" cy="141.5" r="2.4"/><circle cx="530.6" cy="141.9" r="2.4"/><circle cx="527.5" cy="145.8" r="2.4"/><circle cx="530.9" cy="147.2" r="2.4"/><circle cx="520.3" cy="145.4" r="2.4"/><circle cx="521.7" cy="148.7" r="2.4"/><circle cx="528.9" cy="151.3" r="2.4"/><circle cx="538.1" cy="137.6" r="2.4"/><circle cx="539.6" cy="142.6" r="2.4"/><circle cx="545.5" cy="143.9" r="2.4"/><circle cx="506.4" cy="150.1" r="2.4"/><circle cx="509.7" cy="152.6" r="2.4"/><circle cx="512.9" cy="155.2" r="2.4"/><circle cx="492.9" cy="155.9" r="2.4"/><circle cx="505.0" cy="157.7" r="2.4"/><circle cx="501.8" cy="160.2" r="2.4"/><circle cx="508.0" cy="166.0" r="2.4"/><circle cx="519.8" cy="174.3" r="2.4"/><circle cx="544.3" cy="181.1" r="2.4"/><circle cx="539.6" cy="193.4" r="2.4"/><circle cx="574.0" cy="123.2" r="2.4"/><circle cx="566.4" cy="125.9" r="2.4"/><circle cx="571.1" cy="130.4" r="2.4"/><circle cx="574.3" cy="136.0" r="2.4"/><circle cx="569.3" cy="139.0" r="2.4"/><circle cx="572.6" cy="142.9" r="2.4"/><circle cx="559.2" cy="139.0" r="2.4"/><circle cx="563.5" cy="139.6" r="2.4"/><circle cx="565.4" cy="144.6" r="2.4"/><circle cx="560.3" cy="148.4" r="2.4"/><circle cx="566.4" cy="149.1" r="2.4"/><circle cx="569.4" cy="154.0" r="2.4"/><circle cx="583.1" cy="132.1" r="2.4"/><circle cx="586.3" cy="130.9" r="2.4"/><circle cx="589.2" cy="138.3" r="2.4"/><circle cx="589.2" cy="151.8" r="2.4"/><circle cx="584.8" cy="169.3" r="2.4"/><circle cx="586.3" cy="168.8" r="2.4"/><circle cx="589.2" cy="172.5" r="2.4"/><circle cx="599.7" cy="129.9" r="2.4"/><circle cx="597.8" cy="135.7" r="2.4"/><circle cx="601.4" cy="136.1" r="2.4"/><circle cx="597.8" cy="137.9" r="2.4"/><circle cx="602.8" cy="140.3" r="2.4"/><circle cx="608.9" cy="143.6" r="2.4"/><circle cx="617.7" cy="143.2" r="2.4"/><circle cx="607.2" cy="152.6" r="2.4"/><circle cx="601.1" cy="155.2" r="2.4"/><circle cx="610.1" cy="159.9" r="2.4"/><circle cx="631.0" cy="135.4" r="2.4"/><circle cx="638.9" cy="147.5" r="2.4"/><circle cx="632.7" cy="150.8" r="2.4"/><circle cx="541.3" cy="214.6" r="2.4"/>
</g>
<path d="M469.4,111.1 L481.6,113.7 L493.2,116.6 L501.8,118.7 L507.6,118.4 L517.7,117.3 L529.2,116.1 L540.7,114.7 L549.4,114.0 L556.0,113.8 L570.4,115.2 L592.0,117.0 L613.7,118.9 L638.2,121.4" fill="none" stroke="#5f7ba5" stroke-width="1.8" stroke-linejoin="round" stroke-linecap="butt"/>
<rect x="461.5" y="51.5" width="192.0" height="171.0" fill="none" stroke="#a3a8ad" stroke-width="1"/>
<line x1="494.6" y1="222.5" x2="494.6" y2="228.0" stroke="#a3a8ad" stroke-width="1"/>
<text x="494.6" y="242.5" font-size="12" text-anchor="middle">25</text>
<line x1="532.1" y1="222.5" x2="532.1" y2="228.0" stroke="#a3a8ad" stroke-width="1"/>
<text x="532.1" y="242.5" font-size="12" text-anchor="middle">50</text>
<line x1="569.6" y1="222.5" x2="569.6" y2="228.0" stroke="#a3a8ad" stroke-width="1"/>
<text x="569.6" y="242.5" font-size="12" text-anchor="middle">75</text>
<line x1="607.1" y1="222.5" x2="607.1" y2="228.0" stroke="#a3a8ad" stroke-width="1"/>
<text x="607.1" y="242.5" font-size="12" text-anchor="middle">100</text>
<line x1="644.6" y1="222.5" x2="644.6" y2="228.0" stroke="#a3a8ad" stroke-width="1"/>
<text x="644.6" y="242.5" font-size="12" text-anchor="middle">125</text>
<text x="557.5" y="260.5" font-size="13.3" text-anchor="middle">RBIs in 1986</text>
</g>
<line x1="47.5" y1="70.9" x2="53.5" y2="70.9" stroke="#a3a8ad" stroke-width="1"/>
<text x="43" y="75.2" font-size="12" text-anchor="end">1</text>
<line x1="47.5" y1="116.5" x2="53.5" y2="116.5" stroke="#a3a8ad" stroke-width="1"/>
<text x="43" y="120.8" font-size="12" text-anchor="end">0</text>
<line x1="47.5" y1="162.1" x2="53.5" y2="162.1" stroke="#a3a8ad" stroke-width="1"/>
<text x="43" y="166.4" font-size="12" text-anchor="end">-1</text>
<line x1="47.5" y1="207.7" x2="53.5" y2="207.7" stroke="#a3a8ad" stroke-width="1"/>
<text x="43" y="212.0" font-size="12" text-anchor="end">-2</text>
<text transform="translate(23.8,137.0) rotate(-90)" font-size="13.3" text-anchor="middle">Residual</text>
<g>
<line x1="53.5" y1="340.5" x2="244.5" y2="340.5" stroke="#a6abb0" stroke-width="1.2"/>
<g fill="none" stroke="#1f3f9f" stroke-width="1.2">
<circle cx="85.6" cy="285.2" r="2.4"/><circle cx="97.8" cy="282.6" r="2.4"/><circle cx="97.8" cy="288.7" r="2.4"/><circle cx="106.1" cy="293.2" r="2.4"/><circle cx="136.0" cy="288.4" r="2.4"/><circle cx="96.3" cy="298.8" r="2.4"/><circle cx="129.1" cy="298.2" r="2.4"/><circle cx="127.7" cy="301.1" r="2.4"/><circle cx="102.2" cy="303.5" r="2.4"/><circle cx="106.1" cy="300.7" r="2.4"/><circle cx="106.5" cy="304.3" r="2.4"/><circle cx="97.8" cy="305.0" r="2.4"/><circle cx="109.7" cy="304.3" r="2.4"/><circle cx="114.3" cy="303.8" r="2.4"/><circle cx="82.3" cy="306.9" r="2.4"/><circle cx="87.3" cy="306.4" r="2.4"/><circle cx="90.6" cy="310.0" r="2.4"/><circle cx="109.4" cy="310.8" r="2.4"/><circle cx="117.6" cy="307.4" r="2.4"/><circle cx="122.9" cy="307.4" r="2.4"/><circle cx="129.4" cy="308.3" r="2.4"/><circle cx="134.2" cy="311.2" r="2.4"/><circle cx="139.2" cy="311.8" r="2.4"/><circle cx="119.0" cy="311.8" r="2.4"/><circle cx="122.3" cy="312.2" r="2.4"/><circle cx="124.5" cy="311.8" r="2.4"/><circle cx="119.7" cy="315.1" r="2.4"/><circle cx="122.6" cy="316.1" r="2.4"/><circle cx="75.8" cy="318.0" r="2.4"/><circle cx="80.5" cy="315.5" r="2.4"/><circle cx="79.1" cy="320.1" r="2.4"/><circle cx="75.8" cy="325.9" r="2.4"/><circle cx="90.6" cy="318.7" r="2.4"/><circle cx="94.2" cy="316.5" r="2.4"/><circle cx="96.0" cy="319.0" r="2.4"/><circle cx="98.1" cy="319.4" r="2.4"/><circle cx="97.4" cy="322.3" r="2.4"/><circle cx="104.3" cy="314.4" r="2.4"/><circle cx="104.6" cy="320.8" r="2.4"/><circle cx="101.3" cy="324.2" r="2.4"/><circle cx="112.5" cy="317.5" r="2.4"/><circle cx="114.0" cy="320.1" r="2.4"/><circle cx="114.7" cy="323.0" r="2.4"/><circle cx="110.4" cy="323.7" r="2.4"/><circle cx="111.4" cy="325.2" r="2.4"/><circle cx="120.5" cy="319.8" r="2.4"/><circle cx="121.2" cy="323.0" r="2.4"/><circle cx="125.5" cy="318.0" r="2.4"/><circle cx="127.0" cy="320.1" r="2.4"/><circle cx="130.6" cy="322.3" r="2.4"/><circle cx="134.2" cy="324.5" r="2.4"/><circle cx="140.6" cy="317.0" r="2.4"/><circle cx="139.2" cy="319.0" r="2.4"/><circle cx="147.1" cy="320.8" r="2.4"/><circle cx="82.3" cy="328.5" r="2.4"/><circle cx="85.4" cy="327.6" r="2.4"/><circle cx="86.6" cy="329.5" r="2.4"/><circle cx="90.6" cy="328.5" r="2.4"/><circle cx="94.2" cy="328.1" r="2.4"/><circle cx="99.3" cy="328.1" r="2.4"/><circle cx="80.8" cy="333.4" r="2.4"/><circle cx="88.8" cy="334.8" r="2.4"/><circle cx="96.0" cy="335.3" r="2.4"/><circle cx="104.6" cy="333.8" r="2.4"/><circle cx="112.5" cy="331.7" r="2.4"/><circle cx="111.1" cy="336.7" r="2.4"/><circle cx="124.4" cy="327.6" r="2.4"/><circle cx="121.2" cy="332.4" r="2.4"/><circle cx="126.2" cy="332.4" r="2.4"/><circle cx="119.7" cy="336.7" r="2.4"/><circle cx="126.2" cy="335.3" r="2.4"/><circle cx="132.7" cy="332.4" r="2.4"/><circle cx="137.8" cy="327.6" r="2.4"/><circle cx="142.8" cy="328.1" r="2.4"/><circle cx="137.8" cy="330.9" r="2.4"/><circle cx="139.2" cy="337.1" r="2.4"/><circle cx="145.7" cy="336.0" r="2.4"/><circle cx="147.1" cy="330.9" r="2.4"/><circle cx="85.4" cy="339.6" r="2.4"/><circle cx="90.2" cy="342.5" r="2.4"/><circle cx="98.1" cy="341.7" r="2.4"/><circle cx="101.7" cy="340.6" r="2.4"/><circle cx="115.4" cy="341.7" r="2.4"/><circle cx="119.0" cy="341.5" r="2.4"/><circle cx="126.2" cy="341.0" r="2.4"/><circle cx="126.2" cy="344.6" r="2.4"/><circle cx="88.0" cy="344.6" r="2.4"/><circle cx="145.7" cy="344.6" r="2.4"/><circle cx="181.2" cy="288.4" r="2.4"/><circle cx="164.6" cy="298.1" r="2.4"/><circle cx="174.7" cy="297.8" r="2.4"/><circle cx="193.0" cy="298.8" r="2.4"/><circle cx="166.3" cy="303.1" r="2.4"/><circle cx="172.8" cy="302.5" r="2.4"/><circle cx="179.7" cy="302.8" r="2.4"/><circle cx="191.0" cy="302.4" r="2.4"/><circle cx="149.7" cy="301.4" r="2.4"/><circle cx="149.7" cy="304.6" r="2.4"/><circle cx="149.7" cy="311.2" r="2.4"/><circle cx="164.6" cy="309.6" r="2.4"/><circle cx="176.1" cy="309.0" r="2.4"/><circle cx="177.8" cy="311.2" r="2.4"/><circle cx="184.8" cy="314.8" r="2.4"/><circle cx="186.2" cy="314.4" r="2.4"/><circle cx="210.0" cy="311.8" r="2.4"/><circle cx="236.6" cy="320.4" r="2.4"/><circle cx="154.5" cy="323.4" r="2.4"/><circle cx="148.7" cy="326.2" r="2.4"/><circle cx="169.6" cy="319.4" r="2.4"/><circle cx="182.6" cy="322.7" r="2.4"/><circle cx="184.8" cy="324.2" r="2.4"/><circle cx="189.4" cy="321.3" r="2.4"/><circle cx="191.2" cy="323.3" r="2.4"/><circle cx="201.0" cy="325.2" r="2.4"/><circle cx="154.1" cy="329.9" r="2.4"/><circle cx="156.4" cy="329.5" r="2.4"/><circle cx="164.6" cy="329.9" r="2.4"/><circle cx="168.2" cy="328.5" r="2.4"/><circle cx="171.4" cy="328.5" r="2.4"/><circle cx="177.8" cy="328.8" r="2.4"/><circle cx="171.1" cy="333.4" r="2.4"/><circle cx="188.1" cy="330.2" r="2.4"/><circle cx="187.6" cy="334.5" r="2.4"/><circle cx="196.3" cy="332.4" r="2.4"/><circle cx="194.1" cy="336.3" r="2.4"/><circle cx="210.0" cy="334.3" r="2.4"/><circle cx="218.2" cy="337.7" r="2.4"/><circle cx="157.8" cy="338.9" r="2.4"/><circle cx="169.6" cy="338.1" r="2.4"/><circle cx="148.7" cy="336.7" r="2.4"/><circle cx="173.9" cy="341.0" r="2.4"/><circle cx="176.1" cy="342.5" r="2.4"/><circle cx="199.6" cy="341.5" r="2.4"/><circle cx="151.6" cy="344.6" r="2.4"/><circle cx="85.2" cy="347.2" r="2.4"/><circle cx="92.8" cy="349.6" r="2.4"/><circle cx="104.6" cy="348.6" r="2.4"/><circle cx="111.1" cy="349.6" r="2.4"/><circle cx="111.1" cy="351.8" r="2.4"/><circle cx="116.1" cy="350.3" r="2.4"/><circle cx="126.2" cy="350.3" r="2.4"/><circle cx="142.5" cy="347.2" r="2.4"/><circle cx="80.5" cy="351.8" r="2.4"/><circle cx="80.5" cy="354.9" r="2.4"/><circle cx="86.6" cy="356.1" r="2.4"/><circle cx="90.9" cy="354.6" r="2.4"/><circle cx="96.0" cy="352.5" r="2.4"/><circle cx="97.8" cy="356.8" r="2.4"/><circle cx="93.1" cy="357.2" r="2.4"/><circle cx="104.6" cy="355.4" r="2.4"/><circle cx="106.8" cy="355.8" r="2.4"/><circle cx="111.1" cy="354.4" r="2.4"/><circle cx="116.1" cy="356.8" r="2.4"/><circle cx="127.7" cy="353.9" r="2.4"/><circle cx="132.0" cy="356.4" r="2.4"/><circle cx="136.3" cy="357.8" r="2.4"/><circle cx="122.6" cy="359.7" r="2.4"/><circle cx="127.7" cy="360.1" r="2.4"/><circle cx="147.1" cy="359.7" r="2.4"/><circle cx="72.5" cy="356.4" r="2.4"/><circle cx="78.7" cy="360.4" r="2.4"/><circle cx="80.8" cy="363.6" r="2.4"/><circle cx="82.6" cy="360.4" r="2.4"/><circle cx="87.0" cy="359.7" r="2.4"/><circle cx="85.4" cy="364.7" r="2.4"/><circle cx="65.7" cy="368.1" r="2.4"/><circle cx="73.9" cy="369.8" r="2.4"/><circle cx="87.3" cy="372.2" r="2.4"/><circle cx="95.7" cy="361.1" r="2.4"/><circle cx="97.0" cy="364.0" r="2.4"/><circle cx="98.1" cy="366.2" r="2.4"/><circle cx="95.2" cy="368.3" r="2.4"/><circle cx="97.8" cy="369.1" r="2.4"/><circle cx="101.7" cy="370.5" r="2.4"/><circle cx="106.1" cy="367.9" r="2.4"/><circle cx="111.1" cy="361.1" r="2.4"/><circle cx="116.1" cy="361.6" r="2.4"/><circle cx="118.3" cy="360.4" r="2.4"/><circle cx="120.5" cy="362.6" r="2.4"/><circle cx="114.0" cy="364.7" r="2.4"/><circle cx="117.6" cy="364.7" r="2.4"/><circle cx="119.7" cy="366.2" r="2.4"/><circle cx="110.4" cy="368.3" r="2.4"/><circle cx="112.5" cy="369.8" r="2.4"/><circle cx="115.4" cy="369.1" r="2.4"/><circle cx="118.6" cy="367.6" r="2.4"/><circle cx="114.3" cy="372.7" r="2.4"/><circle cx="135.6" cy="362.6" r="2.4"/><circle cx="139.5" cy="365.2" r="2.4"/><circle cx="131.0" cy="369.8" r="2.4"/><circle cx="90.6" cy="379.2" r="2.4"/><circle cx="109.4" cy="379.9" r="2.4"/><circle cx="114.3" cy="376.6" r="2.4"/><circle cx="104.2" cy="384.2" r="2.4"/><circle cx="139.2" cy="375.8" r="2.4"/><circle cx="147.1" cy="374.1" r="2.4"/><circle cx="127.7" cy="383.8" r="2.4"/><circle cx="117.6" cy="390.0" r="2.4"/><circle cx="136.0" cy="392.8" r="2.4"/><circle cx="132.4" cy="396.5" r="2.4"/><circle cx="94.2" cy="398.3" r="2.4"/><circle cx="129.1" cy="417.4" r="2.4"/><circle cx="149.7" cy="349.9" r="2.4"/><circle cx="157.8" cy="354.9" r="2.4"/><circle cx="164.1" cy="353.5" r="2.4"/><circle cx="181.2" cy="355.1" r="2.4"/><circle cx="208.3" cy="348.9" r="2.4"/><circle cx="211.4" cy="354.2" r="2.4"/><circle cx="218.2" cy="351.0" r="2.4"/><circle cx="223.2" cy="364.3" r="2.4"/><circle cx="153.8" cy="359.7" r="2.4"/><circle cx="152.0" cy="363.0" r="2.4"/><circle cx="150.2" cy="363.6" r="2.4"/><circle cx="159.5" cy="363.0" r="2.4"/><circle cx="164.6" cy="361.6" r="2.4"/><circle cx="161.3" cy="366.9" r="2.4"/><circle cx="168.9" cy="366.2" r="2.4"/><circle cx="169.6" cy="367.3" r="2.4"/><circle cx="153.0" cy="368.8" r="2.4"/><circle cx="156.6" cy="371.7" r="2.4"/><circle cx="161.3" cy="371.7" r="2.4"/><circle cx="165.0" cy="373.1" r="2.4"/><circle cx="169.6" cy="374.8" r="2.4"/><circle cx="156.4" cy="376.7" r="2.4"/><circle cx="163.1" cy="379.2" r="2.4"/><circle cx="183.0" cy="378.0" r="2.4"/><circle cx="179.4" cy="382.0" r="2.4"/><circle cx="213.2" cy="393.3" r="2.4"/><circle cx="214.9" cy="405.4" r="2.4"/><circle cx="159.5" cy="438.6" r="2.4"/>
</g>
<path d="M66.0,354.9 L73.6,346.5 L80.1,340.0 L88.0,339.6 L95.2,337.9 L100.3,336.4 L105.3,338.6 L109.7,341.5 L114.0,343.6 L119.7,341.5 L124.8,338.6 L129.8,340.0 L135.6,341.0 L141.4,340.0 L148.0,340.5 L153.8,347.2 L158.8,350.8 L162.4,351.5 L166.7,345.8 L171.8,338.6 L176.8,332.8 L181.9,329.2 L186.9,329.2 L192.7,331.4 L197.7,335.0 L204.2,340.7 L210.0,344.8 L217.2,348.2 L225.8,353.0 L235.9,358.8" fill="none" stroke="#5f7ba5" stroke-width="1.8" stroke-linejoin="round" stroke-linecap="butt"/>
<rect x="53.5" y="275.5" width="191.0" height="171.0" fill="none" stroke="#a3a8ad" stroke-width="1"/>
<line x1="60.8" y1="446.5" x2="60.8" y2="452.0" stroke="#a3a8ad" stroke-width="1"/>
<text x="60.8" y="466.5" font-size="12" text-anchor="middle">0</text>
<line x1="94.3" y1="446.5" x2="94.3" y2="452.0" stroke="#a3a8ad" stroke-width="1"/>
<text x="94.3" y="466.5" font-size="12" text-anchor="middle">20</text>
<line x1="127.8" y1="446.5" x2="127.8" y2="452.0" stroke="#a3a8ad" stroke-width="1"/>
<text x="127.8" y="466.5" font-size="12" text-anchor="middle">40</text>
<line x1="161.3" y1="446.5" x2="161.3" y2="452.0" stroke="#a3a8ad" stroke-width="1"/>
<text x="161.3" y="466.5" font-size="12" text-anchor="middle">60</text>
<line x1="194.8" y1="446.5" x2="194.8" y2="452.0" stroke="#a3a8ad" stroke-width="1"/>
<text x="194.8" y="466.5" font-size="12" text-anchor="middle">80</text>
<line x1="228.3" y1="446.5" x2="228.3" y2="452.0" stroke="#a3a8ad" stroke-width="1"/>
<text x="228.3" y="466.5" font-size="12" text-anchor="middle">100</text>
<text x="149.0" y="484.5" font-size="13.3" text-anchor="middle">Walks in 1986</text>
</g>
<g>
<line x1="257.5" y1="340.5" x2="449.5" y2="340.5" stroke="#a6abb0" stroke-width="1.2"/>
<g fill="none" stroke="#1f3f9f" stroke-width="1.2">
<circle cx="273.4" cy="356.6" r="2.4"/><circle cx="273.4" cy="359.3" r="2.4"/><circle cx="273.4" cy="362.0" r="2.4"/><circle cx="273.4" cy="364.7" r="2.4"/><circle cx="273.4" cy="366.5" r="2.4"/><circle cx="273.4" cy="369.2" r="2.4"/><circle cx="273.4" cy="371.9" r="2.4"/><circle cx="273.4" cy="374.6" r="2.4"/><circle cx="273.4" cy="377.3" r="2.4"/><circle cx="282.3" cy="349.8" r="2.4"/><circle cx="282.3" cy="352.5" r="2.4"/><circle cx="282.3" cy="355.2" r="2.4"/><circle cx="282.3" cy="357.9" r="2.4"/><circle cx="282.3" cy="362.0" r="2.4"/><circle cx="282.3" cy="364.7" r="2.4"/><circle cx="282.3" cy="366.9" r="2.4"/><circle cx="282.3" cy="370.1" r="2.4"/><circle cx="282.3" cy="372.3" r="2.4"/><circle cx="282.3" cy="375.0" r="2.4"/><circle cx="282.3" cy="382.2" r="2.4"/><circle cx="291.1" cy="330.4" r="2.4"/><circle cx="291.1" cy="340.4" r="2.4"/><circle cx="291.1" cy="343.1" r="2.4"/><circle cx="291.1" cy="345.8" r="2.4"/><circle cx="291.1" cy="348.5" r="2.4"/><circle cx="291.1" cy="351.2" r="2.4"/><circle cx="291.1" cy="353.9" r="2.4"/><circle cx="291.1" cy="356.6" r="2.4"/><circle cx="291.1" cy="360.6" r="2.4"/><circle cx="291.1" cy="363.3" r="2.4"/><circle cx="291.1" cy="365.6" r="2.4"/><circle cx="291.1" cy="367.8" r="2.4"/><circle cx="291.1" cy="379.1" r="2.4"/><circle cx="300.0" cy="288.3" r="2.4"/><circle cx="300.0" cy="311.3" r="2.4"/><circle cx="300.0" cy="314.3" r="2.4"/><circle cx="300.0" cy="317.0" r="2.4"/><circle cx="300.0" cy="319.7" r="2.4"/><circle cx="300.0" cy="321.9" r="2.4"/><circle cx="300.0" cy="324.6" r="2.4"/><circle cx="300.0" cy="327.3" r="2.4"/><circle cx="300.0" cy="330.0" r="2.4"/><circle cx="300.0" cy="332.7" r="2.4"/><circle cx="300.0" cy="335.4" r="2.4"/><circle cx="300.0" cy="346.5" r="2.4"/><circle cx="300.0" cy="351.6" r="2.4"/><circle cx="300.0" cy="354.3" r="2.4"/><circle cx="300.0" cy="357.0" r="2.4"/><circle cx="300.0" cy="359.7" r="2.4"/><circle cx="300.0" cy="362.4" r="2.4"/><circle cx="300.0" cy="365.8" r="2.4"/><circle cx="300.0" cy="371.4" r="2.4"/><circle cx="300.0" cy="380.0" r="2.4"/><circle cx="300.0" cy="393.0" r="2.4"/><circle cx="308.8" cy="301.7" r="2.4"/><circle cx="308.8" cy="303.9" r="2.4"/><circle cx="308.8" cy="306.6" r="2.4"/><circle cx="308.8" cy="308.9" r="2.4"/><circle cx="308.8" cy="311.6" r="2.4"/><circle cx="308.8" cy="314.3" r="2.4"/><circle cx="308.8" cy="317.0" r="2.4"/><circle cx="308.8" cy="319.7" r="2.4"/><circle cx="308.8" cy="322.4" r="2.4"/><circle cx="308.8" cy="325.1" r="2.4"/><circle cx="308.8" cy="327.8" r="2.4"/><circle cx="308.8" cy="330.0" r="2.4"/><circle cx="308.8" cy="332.7" r="2.4"/><circle cx="308.8" cy="335.4" r="2.4"/><circle cx="308.8" cy="338.1" r="2.4"/><circle cx="308.8" cy="342.6" r="2.4"/><circle cx="308.8" cy="355.5" r="2.4"/><circle cx="308.8" cy="390.1" r="2.4"/><circle cx="317.6" cy="282.8" r="2.4"/><circle cx="317.6" cy="293.1" r="2.4"/><circle cx="317.6" cy="298.1" r="2.4"/><circle cx="317.6" cy="303.0" r="2.4"/><circle cx="317.6" cy="308.9" r="2.4"/><circle cx="317.6" cy="311.6" r="2.4"/><circle cx="317.6" cy="315.6" r="2.4"/><circle cx="317.6" cy="318.8" r="2.4"/><circle cx="317.6" cy="322.4" r="2.4"/><circle cx="317.6" cy="325.0" r="2.4"/><circle cx="317.6" cy="329.1" r="2.4"/><circle cx="317.6" cy="331.8" r="2.4"/><circle cx="317.6" cy="337.2" r="2.4"/><circle cx="317.6" cy="338.1" r="2.4"/><circle cx="317.6" cy="353.0" r="2.4"/><circle cx="317.6" cy="396.5" r="2.4"/><circle cx="317.6" cy="438.6" r="2.4"/><circle cx="326.5" cy="288.6" r="2.4"/><circle cx="326.5" cy="297.6" r="2.4"/><circle cx="326.5" cy="299.6" r="2.4"/><circle cx="326.5" cy="303.0" r="2.4"/><circle cx="326.5" cy="305.7" r="2.4"/><circle cx="326.5" cy="308.9" r="2.4"/><circle cx="326.5" cy="311.6" r="2.4"/><circle cx="326.5" cy="316.5" r="2.4"/><circle cx="326.5" cy="319.7" r="2.4"/><circle cx="326.5" cy="322.8" r="2.4"/><circle cx="326.5" cy="328.9" r="2.4"/><circle cx="326.5" cy="348.9" r="2.4"/><circle cx="335.3" cy="298.1" r="2.4"/><circle cx="335.3" cy="309.8" r="2.4"/><circle cx="335.3" cy="312.0" r="2.4"/><circle cx="335.3" cy="323.0" r="2.4"/><circle cx="335.3" cy="328.2" r="2.4"/><circle cx="335.3" cy="345.3" r="2.4"/><circle cx="335.3" cy="347.6" r="2.4"/><circle cx="335.3" cy="349.8" r="2.4"/><circle cx="344.2" cy="298.5" r="2.4"/><circle cx="344.2" cy="301.2" r="2.4"/><circle cx="344.2" cy="304.4" r="2.4"/><circle cx="344.2" cy="307.5" r="2.4"/><circle cx="344.2" cy="318.8" r="2.4"/><circle cx="344.2" cy="322.4" r="2.4"/><circle cx="344.2" cy="326.9" r="2.4"/><circle cx="344.2" cy="333.6" r="2.4"/><circle cx="344.2" cy="341.0" r="2.4"/><circle cx="353.0" cy="285.5" r="2.4"/><circle cx="353.0" cy="301.7" r="2.4"/><circle cx="353.0" cy="304.8" r="2.4"/><circle cx="353.0" cy="311.8" r="2.4"/><circle cx="353.0" cy="320.0" r="2.4"/><circle cx="353.0" cy="328.7" r="2.4"/><circle cx="353.0" cy="332.3" r="2.4"/><circle cx="353.0" cy="341.7" r="2.4"/><circle cx="353.0" cy="363.1" r="2.4"/><circle cx="353.0" cy="373.2" r="2.4"/><circle cx="353.0" cy="375.9" r="2.4"/><circle cx="353.0" cy="398.4" r="2.4"/><circle cx="361.8" cy="314.3" r="2.4"/><circle cx="361.8" cy="318.8" r="2.4"/><circle cx="361.8" cy="321.0" r="2.4"/><circle cx="361.8" cy="331.4" r="2.4"/><circle cx="361.8" cy="335.9" r="2.4"/><circle cx="361.8" cy="340.8" r="2.4"/><circle cx="361.8" cy="354.3" r="2.4"/><circle cx="361.8" cy="360.2" r="2.4"/><circle cx="370.7" cy="288.4" r="2.4"/><circle cx="370.7" cy="331.4" r="2.4"/><circle cx="370.7" cy="333.6" r="2.4"/><circle cx="370.7" cy="342.2" r="2.4"/><circle cx="370.7" cy="345.8" r="2.4"/><circle cx="370.7" cy="350.7" r="2.4"/><circle cx="370.7" cy="367.0" r="2.4"/><circle cx="379.5" cy="309.8" r="2.4"/><circle cx="379.5" cy="319.5" r="2.4"/><circle cx="379.5" cy="329.6" r="2.4"/><circle cx="379.5" cy="334.5" r="2.4"/><circle cx="379.5" cy="338.1" r="2.4"/><circle cx="379.5" cy="346.7" r="2.4"/><circle cx="379.5" cy="353.9" r="2.4"/><circle cx="379.5" cy="359.3" r="2.4"/><circle cx="388.4" cy="331.8" r="2.4"/><circle cx="388.4" cy="335.9" r="2.4"/><circle cx="388.4" cy="339.5" r="2.4"/><circle cx="388.4" cy="341.3" r="2.4"/><circle cx="388.4" cy="343.1" r="2.4"/><circle cx="388.4" cy="351.2" r="2.4"/><circle cx="388.4" cy="353.9" r="2.4"/><circle cx="388.4" cy="356.6" r="2.4"/><circle cx="388.4" cy="359.3" r="2.4"/><circle cx="388.4" cy="364.2" r="2.4"/><circle cx="397.2" cy="334.3" r="2.4"/><circle cx="397.2" cy="352.1" r="2.4"/><circle cx="397.2" cy="355.2" r="2.4"/><circle cx="397.2" cy="357.9" r="2.4"/><circle cx="397.2" cy="360.6" r="2.4"/><circle cx="397.2" cy="363.3" r="2.4"/><circle cx="397.2" cy="365.6" r="2.4"/><circle cx="397.2" cy="378.2" r="2.4"/><circle cx="406.0" cy="324.1" r="2.4"/><circle cx="406.0" cy="340.7" r="2.4"/><circle cx="406.0" cy="364.0" r="2.4"/><circle cx="414.9" cy="337.3" r="2.4"/><circle cx="414.9" cy="361.7" r="2.4"/><circle cx="414.9" cy="368.3" r="2.4"/><circle cx="414.9" cy="384.1" r="2.4"/><circle cx="423.7" cy="343.3" r="2.4"/><circle cx="423.7" cy="358.0" r="2.4"/><circle cx="423.7" cy="378.9" r="2.4"/><circle cx="423.7" cy="383.6" r="2.4"/><circle cx="423.7" cy="393.5" r="2.4"/><circle cx="432.6" cy="353.8" r="2.4"/><circle cx="441.4" cy="405.7" r="2.4"/><circle cx="441.4" cy="418.0" r="2.4"/>
</g>
<path d="M273.4,366.9 L282.3,364.0 L291.1,356.3 L300.0,341.9 L308.8,326.4 L317.6,327.2 L326.5,311.2 L335.3,317.5 L344.2,324.2 L353.0,328.6 L361.8,333.3 L370.7,338.1 L379.5,343.0 L388.4,347.8 L397.2,352.5 L406.0,357.0 L414.9,364.5 L423.7,373.2 L432.6,381.4 L441.4,388.9" fill="none" stroke="#5f7ba5" stroke-width="1.8" stroke-linejoin="round" stroke-linecap="butt"/>
<rect x="257.5" y="275.5" width="192.0" height="171.0" fill="none" stroke="#a3a8ad" stroke-width="1"/>
<line x1="264.6" y1="446.5" x2="264.6" y2="452.0" stroke="#a3a8ad" stroke-width="1"/>
<text x="264.6" y="466.5" font-size="12" text-anchor="middle">0</text>
<line x1="308.8" y1="446.5" x2="308.8" y2="452.0" stroke="#a3a8ad" stroke-width="1"/>
<text x="308.8" y="466.5" font-size="12" text-anchor="middle">5</text>
<line x1="353.0" y1="446.5" x2="353.0" y2="452.0" stroke="#a3a8ad" stroke-width="1"/>
<text x="353.0" y="466.5" font-size="12" text-anchor="middle">10</text>
<line x1="397.3" y1="446.5" x2="397.3" y2="452.0" stroke="#a3a8ad" stroke-width="1"/>
<text x="397.3" y="466.5" font-size="12" text-anchor="middle">15</text>
<line x1="441.5" y1="446.5" x2="441.5" y2="452.0" stroke="#a3a8ad" stroke-width="1"/>
<text x="441.5" y="466.5" font-size="12" text-anchor="middle">20</text>
<text x="353.5" y="484.5" font-size="13.3" text-anchor="middle">Years in the Major Leagues</text>
</g>
<g>
<line x1="461.5" y1="340.5" x2="653.5" y2="340.5" stroke="#a6abb0" stroke-width="1.2"/>
<g fill="none" stroke="#1f3f9f" stroke-width="1.2">
<circle cx="503.7" cy="282.8" r="2.4"/><circle cx="501.0" cy="288.4" r="2.4"/><circle cx="502.3" cy="288.6" r="2.4"/><circle cx="503.9" cy="293.1" r="2.4"/><circle cx="503.9" cy="298.1" r="2.4"/><circle cx="514.8" cy="298.5" r="2.4"/><circle cx="516.8" cy="302.1" r="2.4"/><circle cx="519.0" cy="297.6" r="2.4"/><circle cx="519.5" cy="301.2" r="2.4"/><circle cx="493.3" cy="303.0" r="2.4"/><circle cx="500.1" cy="303.7" r="2.4"/><circle cx="496.5" cy="307.1" r="2.4"/><circle cx="491.5" cy="310.7" r="2.4"/><circle cx="496.0" cy="311.6" r="2.4"/><circle cx="496.9" cy="313.8" r="2.4"/><circle cx="506.4" cy="307.5" r="2.4"/><circle cx="511.4" cy="308.0" r="2.4"/><circle cx="513.2" cy="309.8" r="2.4"/><circle cx="515.9" cy="311.1" r="2.4"/><circle cx="507.7" cy="311.6" r="2.4"/><circle cx="505.5" cy="314.7" r="2.4"/><circle cx="519.5" cy="311.6" r="2.4"/><circle cx="519.5" cy="314.7" r="2.4"/><circle cx="483.9" cy="315.6" r="2.4"/><circle cx="482.1" cy="318.3" r="2.4"/><circle cx="486.1" cy="317.9" r="2.4"/><circle cx="489.3" cy="317.0" r="2.4"/><circle cx="491.5" cy="315.6" r="2.4"/><circle cx="493.3" cy="318.3" r="2.4"/><circle cx="495.6" cy="319.2" r="2.4"/><circle cx="499.6" cy="320.1" r="2.4"/><circle cx="503.2" cy="319.2" r="2.4"/><circle cx="509.5" cy="319.2" r="2.4"/><circle cx="517.7" cy="319.7" r="2.4"/><circle cx="480.3" cy="326.0" r="2.4"/><circle cx="476.0" cy="330.3" r="2.4"/><circle cx="484.3" cy="329.1" r="2.4"/><circle cx="487.5" cy="332.7" r="2.4"/><circle cx="482.1" cy="322.8" r="2.4"/><circle cx="485.2" cy="324.6" r="2.4"/><circle cx="488.8" cy="327.3" r="2.4"/><circle cx="491.5" cy="327.8" r="2.4"/><circle cx="493.3" cy="323.7" r="2.4"/><circle cx="496.0" cy="327.8" r="2.4"/><circle cx="491.1" cy="335.0" r="2.4"/><circle cx="494.2" cy="330.9" r="2.4"/><circle cx="497.8" cy="323.7" r="2.4"/><circle cx="500.5" cy="322.4" r="2.4"/><circle cx="499.6" cy="329.6" r="2.4"/><circle cx="502.3" cy="326.4" r="2.4"/><circle cx="506.8" cy="327.3" r="2.4"/><circle cx="507.7" cy="322.8" r="2.4"/><circle cx="513.2" cy="323.7" r="2.4"/><circle cx="515.9" cy="322.4" r="2.4"/><circle cx="519.0" cy="329.6" r="2.4"/><circle cx="514.1" cy="330.0" r="2.4"/><circle cx="508.6" cy="331.4" r="2.4"/><circle cx="510.0" cy="332.3" r="2.4"/><circle cx="511.4" cy="332.7" r="2.4"/><circle cx="512.7" cy="332.3" r="2.4"/><circle cx="496.9" cy="334.5" r="2.4"/><circle cx="498.3" cy="336.3" r="2.4"/><circle cx="499.6" cy="337.7" r="2.4"/><circle cx="501.9" cy="337.7" r="2.4"/><circle cx="506.8" cy="337.7" r="2.4"/><circle cx="519.5" cy="336.8" r="2.4"/><circle cx="496.0" cy="338.1" r="2.4"/><circle cx="479.4" cy="340.4" r="2.4"/><circle cx="481.2" cy="339.5" r="2.4"/><circle cx="482.1" cy="341.3" r="2.4"/><circle cx="479.4" cy="343.5" r="2.4"/><circle cx="481.2" cy="343.5" r="2.4"/><circle cx="478.0" cy="346.2" r="2.4"/><circle cx="480.7" cy="347.1" r="2.4"/><circle cx="494.1" cy="342.4" r="2.4"/><circle cx="492.9" cy="346.7" r="2.4"/><circle cx="502.3" cy="345.3" r="2.4"/><circle cx="506.2" cy="342.6" r="2.4"/><circle cx="514.1" cy="345.8" r="2.4"/><circle cx="473.5" cy="349.6" r="2.4"/><circle cx="477.6" cy="350.3" r="2.4"/><circle cx="480.3" cy="350.7" r="2.4"/><circle cx="486.1" cy="349.8" r="2.4"/><circle cx="487.9" cy="350.7" r="2.4"/><circle cx="487.0" cy="352.1" r="2.4"/><circle cx="483.9" cy="352.5" r="2.4"/><circle cx="481.6" cy="354.8" r="2.4"/><circle cx="488.4" cy="354.8" r="2.4"/><circle cx="499.6" cy="356.0" r="2.4"/><circle cx="508.9" cy="360.2" r="2.4"/><circle cx="472.2" cy="357.0" r="2.4"/><circle cx="474.9" cy="356.1" r="2.4"/><circle cx="477.1" cy="355.2" r="2.4"/><circle cx="473.5" cy="359.7" r="2.4"/><circle cx="470.8" cy="360.6" r="2.4"/><circle cx="475.3" cy="360.6" r="2.4"/><circle cx="478.0" cy="358.8" r="2.4"/><circle cx="480.3" cy="361.1" r="2.4"/><circle cx="482.5" cy="362.0" r="2.4"/><circle cx="486.1" cy="362.9" r="2.4"/><circle cx="471.7" cy="363.3" r="2.4"/><circle cx="474.4" cy="364.2" r="2.4"/><circle cx="478.0" cy="364.2" r="2.4"/><circle cx="481.6" cy="364.2" r="2.4"/><circle cx="494.2" cy="365.6" r="2.4"/><circle cx="472.2" cy="367.8" r="2.4"/><circle cx="474.4" cy="366.9" r="2.4"/><circle cx="476.7" cy="368.3" r="2.4"/><circle cx="478.9" cy="367.4" r="2.4"/><circle cx="473.5" cy="370.5" r="2.4"/><circle cx="476.2" cy="371.0" r="2.4"/><circle cx="478.5" cy="371.4" r="2.4"/><circle cx="475.8" cy="373.7" r="2.4"/><circle cx="478.0" cy="374.6" r="2.4"/><circle cx="480.3" cy="373.7" r="2.4"/><circle cx="473.5" cy="376.4" r="2.4"/><circle cx="476.7" cy="377.7" r="2.4"/><circle cx="479.4" cy="378.2" r="2.4"/><circle cx="481.2" cy="376.4" r="2.4"/><circle cx="477.6" cy="380.0" r="2.4"/><circle cx="475.8" cy="382.7" r="2.4"/><circle cx="484.3" cy="371.4" r="2.4"/><circle cx="489.7" cy="371.2" r="2.4"/><circle cx="496.5" cy="371.4" r="2.4"/><circle cx="486.1" cy="366.9" r="2.4"/><circle cx="490.6" cy="366.5" r="2.4"/><circle cx="496.0" cy="366.5" r="2.4"/><circle cx="480.0" cy="389.9" r="2.4"/><circle cx="483.0" cy="393.0" r="2.4"/><circle cx="496.8" cy="396.5" r="2.4"/><circle cx="518.1" cy="375.7" r="2.4"/><circle cx="547.3" cy="285.3" r="2.4"/><circle cx="551.5" cy="288.4" r="2.4"/><circle cx="548.6" cy="298.5" r="2.4"/><circle cx="551.1" cy="301.2" r="2.4"/><circle cx="541.6" cy="304.8" r="2.4"/><circle cx="540.3" cy="307.1" r="2.4"/><circle cx="545.7" cy="311.9" r="2.4"/><circle cx="549.5" cy="311.9" r="2.4"/><circle cx="563.7" cy="314.3" r="2.4"/><circle cx="529.0" cy="299.0" r="2.4"/><circle cx="524.5" cy="302.6" r="2.4"/><circle cx="525.4" cy="303.9" r="2.4"/><circle cx="531.3" cy="307.1" r="2.4"/><circle cx="531.7" cy="311.1" r="2.4"/><circle cx="524.1" cy="310.2" r="2.4"/><circle cx="529.5" cy="318.3" r="2.4"/><circle cx="535.8" cy="319.7" r="2.4"/><circle cx="542.1" cy="320.1" r="2.4"/><circle cx="557.8" cy="318.3" r="2.4"/><circle cx="559.6" cy="319.7" r="2.4"/><circle cx="529.0" cy="320.1" r="2.4"/><circle cx="526.8" cy="322.8" r="2.4"/><circle cx="529.0" cy="323.3" r="2.4"/><circle cx="531.3" cy="322.4" r="2.4"/><circle cx="534.0" cy="323.7" r="2.4"/><circle cx="535.8" cy="321.5" r="2.4"/><circle cx="542.1" cy="321.5" r="2.4"/><circle cx="559.2" cy="321.0" r="2.4"/><circle cx="520.9" cy="329.1" r="2.4"/><circle cx="521.4" cy="336.3" r="2.4"/><circle cx="527.7" cy="333.2" r="2.4"/><circle cx="534.9" cy="334.1" r="2.4"/><circle cx="532.6" cy="329.1" r="2.4"/><circle cx="525.9" cy="339.9" r="2.4"/><circle cx="529.0" cy="338.6" r="2.4"/><circle cx="534.9" cy="341.7" r="2.4"/><circle cx="536.9" cy="346.7" r="2.4"/><circle cx="546.3" cy="340.8" r="2.4"/><circle cx="564.1" cy="330.0" r="2.4"/><circle cx="568.6" cy="331.4" r="2.4"/><circle cx="559.2" cy="334.5" r="2.4"/><circle cx="566.1" cy="335.0" r="2.4"/><circle cx="576.6" cy="336.1" r="2.4"/><circle cx="561.9" cy="342.2" r="2.4"/><circle cx="564.1" cy="344.0" r="2.4"/><circle cx="526.1" cy="349.6" r="2.4"/><circle cx="525.2" cy="354.2" r="2.4"/><circle cx="532.9" cy="357.9" r="2.4"/><circle cx="535.8" cy="364.2" r="2.4"/><circle cx="543.9" cy="354.3" r="2.4"/><circle cx="546.1" cy="353.4" r="2.4"/><circle cx="550.2" cy="359.7" r="2.4"/><circle cx="553.3" cy="362.0" r="2.4"/><circle cx="557.8" cy="363.3" r="2.4"/><circle cx="560.1" cy="363.8" r="2.4"/><circle cx="563.2" cy="354.2" r="2.4"/><circle cx="571.8" cy="350.7" r="2.4"/><circle cx="574.1" cy="352.1" r="2.4"/><circle cx="577.2" cy="355.7" r="2.4"/><circle cx="574.5" cy="359.3" r="2.4"/><circle cx="576.8" cy="360.2" r="2.4"/><circle cx="579.5" cy="364.2" r="2.4"/><circle cx="546.8" cy="368.3" r="2.4"/><circle cx="552.3" cy="368.3" r="2.4"/><circle cx="558.9" cy="373.4" r="2.4"/><circle cx="524.1" cy="398.4" r="2.4"/><circle cx="583.3" cy="302.1" r="2.4"/><circle cx="581.1" cy="309.7" r="2.4"/><circle cx="594.5" cy="324.2" r="2.4"/><circle cx="589.2" cy="337.4" r="2.4"/><circle cx="594.2" cy="337.7" r="2.4"/><circle cx="598.8" cy="336.7" r="2.4"/><circle cx="602.0" cy="334.3" r="2.4"/><circle cx="598.8" cy="341.0" r="2.4"/><circle cx="594.2" cy="342.5" r="2.4"/><circle cx="611.1" cy="332.1" r="2.4"/><circle cx="616.1" cy="329.8" r="2.4"/><circle cx="611.5" cy="336.0" r="2.4"/><circle cx="645.0" cy="343.5" r="2.4"/><circle cx="582.3" cy="356.5" r="2.4"/><circle cx="590.6" cy="364.0" r="2.4"/><circle cx="603.2" cy="352.5" r="2.4"/><circle cx="606.8" cy="353.5" r="2.4"/><circle cx="607.2" cy="359.3" r="2.4"/><circle cx="603.4" cy="361.9" r="2.4"/><circle cx="632.4" cy="354.2" r="2.4"/><circle cx="615.1" cy="368.8" r="2.4"/><circle cx="623.8" cy="378.0" r="2.4"/><circle cx="610.4" cy="379.2" r="2.4"/><circle cx="618.6" cy="384.2" r="2.4"/><circle cx="636.7" cy="383.8" r="2.4"/><circle cx="601.7" cy="393.3" r="2.4"/><circle cx="639.9" cy="405.4" r="2.4"/><circle cx="616.8" cy="417.4" r="2.4"/><circle cx="528.3" cy="438.6" r="2.4"/><circle cx="472.0" cy="357.0" r="2.4"/><circle cx="474.0" cy="360.0" r="2.4"/><circle cx="476.0" cy="356.0" r="2.4"/><circle cx="473.0" cy="363.0" r="2.4"/><circle cx="475.0" cy="365.0" r="2.4"/><circle cx="477.0" cy="361.0" r="2.4"/><circle cx="471.5" cy="360.5" r="2.4"/><circle cx="478.0" cy="358.0" r="2.4"/><circle cx="474.5" cy="354.5" r="2.4"/><circle cx="471.0" cy="363.0" r="2.4"/><circle cx="472.5" cy="365.5" r="2.4"/><circle cx="474.0" cy="367.5" r="2.4"/><circle cx="473.0" cy="370.0" r="2.4"/><circle cx="475.5" cy="369.0" r="2.4"/><circle cx="476.5" cy="365.5" r="2.4"/><circle cx="477.5" cy="368.0" r="2.4"/><circle cx="474.0" cy="372.5" r="2.4"/><circle cx="472.0" cy="367.5" r="2.4"/>
</g>
<path d="M471.8,368.5 L472.6,366.0 L480.7,352.5 L486.1,342.6 L490.6,335.4 L496.0,330.0 L501.4,326.9 L508.6,325.5 L520.0,326.0 L533.5,329.6 L547.0,333.6 L560.5,337.7 L570.5,341.3 L580.0,345.8 L644.6,372.7" fill="none" stroke="#5f7ba5" stroke-width="1.8" stroke-linejoin="round" stroke-linecap="butt"/>
<rect x="461.5" y="275.5" width="192.0" height="171.0" fill="none" stroke="#a3a8ad" stroke-width="1"/>
<line x1="468.5" y1="446.5" x2="468.5" y2="452.0" stroke="#a3a8ad" stroke-width="1"/>
<text x="468.5" y="466.5" font-size="12" text-anchor="middle">0</text>
<line x1="502.7" y1="446.5" x2="502.7" y2="452.0" stroke="#a3a8ad" stroke-width="1"/>
<text x="502.7" y="466.5" font-size="12" text-anchor="middle">500</text>
<line x1="536.9" y1="446.5" x2="536.9" y2="452.0" stroke="#a3a8ad" stroke-width="1"/>
<text x="536.9" y="466.5" font-size="12" text-anchor="middle">1000</text>
<line x1="571.1" y1="446.5" x2="571.1" y2="452.0" stroke="#a3a8ad" stroke-width="1"/>
<text x="571.1" y="466.5" font-size="12" text-anchor="middle">1500</text>
<line x1="605.3" y1="446.5" x2="605.3" y2="452.0" stroke="#a3a8ad" stroke-width="1"/>
<text x="605.3" y="466.5" font-size="12" text-anchor="middle">2000</text>
<line x1="639.5" y1="446.5" x2="639.5" y2="452.0" stroke="#a3a8ad" stroke-width="1"/>
<text x="639.5" y="466.5" font-size="12" text-anchor="middle">2500</text>
<text x="557.5" y="484.5" font-size="13.3" text-anchor="middle">Career Hits</text>
</g>
<line x1="47.5" y1="294.9" x2="53.5" y2="294.9" stroke="#a3a8ad" stroke-width="1"/>
<text x="43" y="299.2" font-size="12" text-anchor="end">1</text>
<line x1="47.5" y1="340.5" x2="53.5" y2="340.5" stroke="#a3a8ad" stroke-width="1"/>
<text x="43" y="344.8" font-size="12" text-anchor="end">0</text>
<line x1="47.5" y1="386.1" x2="53.5" y2="386.1" stroke="#a3a8ad" stroke-width="1"/>
<text x="43" y="390.40000000000003" font-size="12" text-anchor="end">-1</text>
<line x1="47.5" y1="431.7" x2="53.5" y2="431.7" stroke="#a3a8ad" stroke-width="1"/>
<text x="43" y="436.0" font-size="12" text-anchor="end">-2</text>
<text transform="translate(23.8,361.0) rotate(-90)" font-size="13.3" text-anchor="middle">Residual</text>
</svg></body></html>
